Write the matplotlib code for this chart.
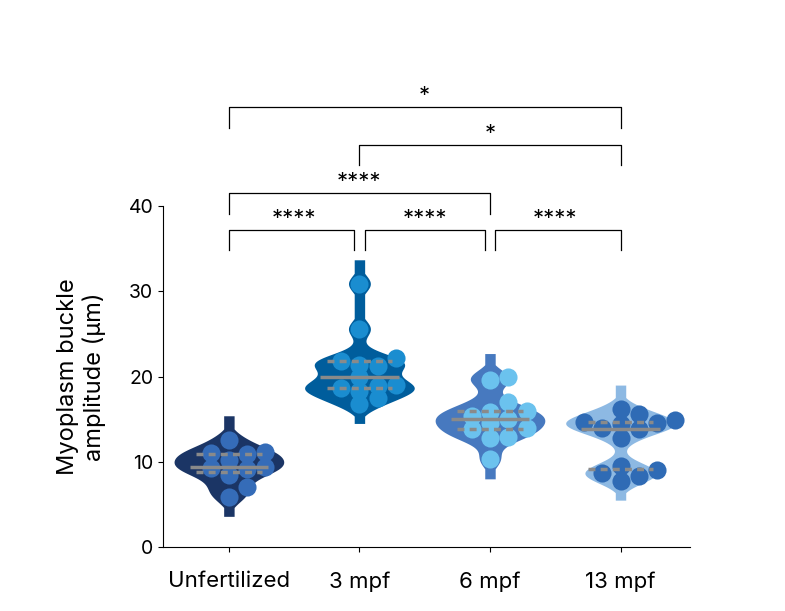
import numpy as np
import matplotlib
matplotlib.use("Agg")
import matplotlib.pyplot as plt

plt.rcParams['font.family'] = ['Inter', 'DejaVu Sans']

categories = ["Unfertilized", "3 mpf", "6 mpf", "13 mpf"]
unfert = [12.6, 11.2, 11.0, 10.9, 10.2, 9.4, 9.3, 9.2, 8.4, 7.0, 5.9]
mpf3 = [30.9, 25.6, 22.2, 21.8, 21.4, 21.2, 20.0, 19.0, 18.9, 18.6, 18.3, 17.5, 16.8]
mpf6 = [19.9, 19.6, 17.0, 16.0, 15.8, 15.4, 15.0, 14.5, 14.0, 13.8, 12.9, 12.8, 10.3]
mpf13 = [16.2, 15.6, 14.9, 14.7, 14.5, 14.4, 14.0, 13.8, 12.8, 9.5, 9.0, 8.7, 8.3, 7.8]
data = [unfert, mpf3, mpf6, mpf13]
violin_colors = ["#1b3565", "#005d9c", "#4779bf", "#8db9e3"]
point_colors = ["#356cb8", "#1a8dd0", "#6bc2ee", "#2f6bb5"]
comparisons = [(0, 1, "****", 37.2), (1, 2, "****", 37.2), (2, 3, "****", 37.2),
               (0, 2, "****", 41.5), (1, 3, "*", 47.2), (0, 3, "*", 51.6)]

fig = plt.figure(figsize=(7.85, 6.11), dpi=100)
ax = fig.add_axes([0.2076, 0.1047, 0.671, 0.558])
ax.set_xlim(-0.505, 3.53)
ax.set_ylim(0, 40)

bw = 1.0
for i, d in enumerate(data):
    d = np.asarray(d)
    ys = np.linspace(d.min() - 2.3, d.max() + 2.8, 400)
    dens = np.exp(-0.5 * ((ys[:, None] - d[None, :]) / bw) ** 2).sum(axis=1)
    dens = dens / dens.max() * 0.42
    dens = np.maximum(dens, 0.04)
    ax.fill_betweenx(ys, i - dens, i + dens, color=violin_colors[i], lw=0, zorder=2)
    r = 0.0
    placed = []
    for v in sorted(d):
        k = 0
        while True:
            cands = [0.0] if k == 0 else [k * 0.07, -k * 0.07]
            ok = None
            for c in cands:
                if all(not (abs(c - px) < 0.13 and abs(v - py) < 1.3) for px, py in placed):
                    ok = c; break
            if ok is not None:
                break
            k += 1
        placed.append((ok, v))
    ax.scatter([i + p[0] for p in placed], [p[1] for p in placed], s=170,
               color=point_colors[i], zorder=3, linewidths=0)
    q1, med, q3 = np.percentile(d, [25, 50, 75])
    ax.hlines(med, i - 0.3, i + 0.3, color="#8a8a8a", lw=2.5, zorder=4)
    ax.hlines([q1, q3], i - 0.25, i + 0.25, color="#8a8a8a", lw=2.5, linestyles=(0, (2, 1.5)), zorder=4)

for a, b, s, y in comparisons:
    xa = a + (0.04 if a > 0 and (b - a) == 1 else 0)
    xb = b - (0.04 if (b - a) == 1 and b < 3 else 0)
    ax.plot([xa, xa, xb, xb], [y - 2.4, y, y, y - 2.4], color="black", lw=0.9, clip_on=False)
    ax.text((a + b) / 2, y + 0.1, s, ha="center", va="bottom", fontsize=16, clip_on=False)

ax.spines[['top', 'right']].set_visible(False)
ax.spines['left'].set_bounds(0, 40)
ax.set_xticks(range(4))
ax.set_xticklabels(categories, fontsize=16)
ax.set_yticks([0, 10, 20, 30, 40])
ax.tick_params(axis='y', labelsize=14)
ax.tick_params(axis='x', pad=14)
ax.set_ylabel("Myoplasm buckle\namplitude (µm)", fontsize=17, labelpad=16)
fig.savefig("out.png", dpi=100)
